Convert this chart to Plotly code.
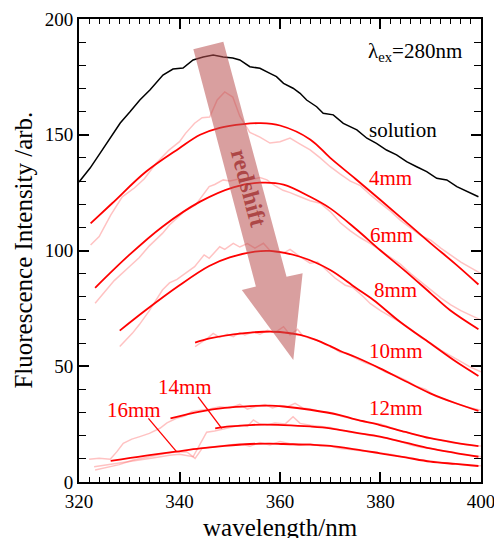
import plotly.graph_objects as go

# ---------------- data ----------------
sol_x = [320.0, 322.2, 324.2, 326.2, 328.2, 330.1, 332.1, 334.1, 336.7, 338.7, 340.7, 342.7, 344.7,
         346.7, 348.7, 350.6, 352.0, 354.0, 356.0, 358.0, 359.3, 360.7, 362.6, 364.0, 365.3, 367.3,
         368.6, 370.6, 372.6, 375.3, 377.3, 379.2, 381.2, 383.2, 385.2, 387.2, 389.2, 391.2, 393.2,
         395.2, 397.2, 399.5]
sol_y = [129.6, 135.6, 142.1, 148.6, 155.1, 159.8, 165.0, 169.3, 175.8, 178.4, 178.8, 182.3, 183.6,
         184.4, 183.6, 183.2, 182.3, 179.4, 178.7, 176.5, 175.1, 172.2, 170.1, 167.9, 165.0, 162.1,
         159.3, 158.6, 154.9, 152.1, 148.5, 146.3, 143.4, 141.3, 138.4, 136.2, 134.1, 131.2, 130.5,
         127.6, 125.4, 123.2]

fit_x = {
    "4mm": [322.3, 326.6, 333.3, 339.9, 344.1, 348.0, 352.7, 356.0, 360.0, 366.0, 370.0, 375.0, 380.0, 385.0, 390.0, 395.0, 399.5],
    "6mm": [323.2, 330.0, 336.6, 344.1, 350.7, 356.0, 360.7, 366.0, 370.0, 375.0, 379.9, 385.0, 390.0, 393.8, 399.5],
    "8mm": [328.1, 333.3, 340.0, 345.9, 350.0, 355.0, 358.0, 364.0, 370.0, 375.0, 378.6, 384.0, 389.9, 395.0, 399.5],
    "10mm": [343.1, 346.0, 350.7, 356.7, 360.0, 364.0, 367.0, 370.0, 372.0, 375.0, 379.9, 385.0, 389.9, 395.0, 399.5],
    "12mm": [338.2, 344.1, 349.0, 354.0, 358.0, 360.7, 366.0, 371.9, 375.0, 379.9, 385.0, 389.9, 395.0, 399.5],
    "14mm": [347.1, 350.0, 354.0, 357.0, 360.7, 366.0, 370.0, 375.0, 379.9, 385.0, 389.9, 395.0, 399.5],
    "16mm": [326.3, 333.0, 339.2, 344.1, 349.0, 354.0, 358.0, 360.7, 366.0, 370.0, 375.0, 379.9, 385.0, 389.9, 395.0, 399.5],
}
fit_y = {
    "4mm": [111.7, 120.4, 134.0, 144.1, 150.0, 153.0, 154.6, 155.0, 154.0, 148.0, 140.0, 131.0, 121.8, 112.5, 103.1, 94.0, 85.3],
    "6mm": [83.9, 98.1, 110.3, 121.1, 127.3, 129.3, 128.5, 123.2, 118.2, 109.5, 100.2, 91.0, 81.5, 74.3, 66.0],
    "8mm": [65.4, 74.3, 85.0, 93.3, 97.0, 99.5, 99.8, 97.3, 91.6, 84.0, 78.6, 69.0, 59.9, 52.0, 45.8],
    "10mm": [60.2, 62.0, 63.8, 64.9, 64.8, 63.5, 61.5, 58.7, 56.6, 54.0, 49.1, 43.5, 38.3, 34.0, 30.7],
    "12mm": [27.5, 30.4, 32.0, 32.8, 33.0, 32.6, 31.2, 28.9, 27.0, 24.6, 21.6, 18.9, 16.9, 15.5],
    "14mm": [23.2, 24.0, 24.6, 24.8, 24.6, 24.0, 23.2, 21.3, 19.6, 17.0, 14.5, 12.5, 10.9],
    "16mm": [9.1, 11.3, 13.1, 14.5, 15.6, 16.4, 16.6, 16.4, 16.1, 15.6, 14.1, 12.4, 10.6, 8.8, 7.8, 6.9],
}

raw_x = {
    "4mm": [322.3, 324, 326.3, 328.6, 331, 333, 335.3, 337.9, 340, 341.2, 343, 344.5, 346, 347.5, 349, 350.6, 352,
            354, 356, 358, 360, 362, 364, 366, 368, 370, 372, 374, 376, 378, 380, 382, 384, 386.5, 388, 390,
            392, 394, 396, 398, 400],
    "6mm": [323.2, 325, 327, 330, 332, 334, 336.6, 338, 339.9, 341, 343.2, 345.9, 347, 348.7, 350, 352, 354, 356,
            357.4, 359, 360.6, 362, 364, 366, 368, 370, 372, 374, 376, 378, 380, 382, 384, 386, 388, 390, 392,
            394, 396, 398, 400],
    "8mm": [328.1, 330.6, 332, 334, 336.6, 338, 339.5, 341.2, 343, 344.9, 345.9, 348, 349, 350.7, 352, 353.5, 355,
            356.7, 358, 360.6, 362, 364, 366, 367.5, 369.3, 371, 373, 374.5, 376.6, 378, 380, 382, 384, 386, 388,
            390, 392, 394, 396, 398, 400],
    "10mm": [343.1, 344.1, 345.5, 346.7, 348, 349.5, 350.7, 352, 353, 354.7, 356, 357.5, 359, 360.7, 362, 363.5,
             364.5, 366, 367.3, 369, 370.5, 372, 373.5, 375, 377, 379, 381, 383, 385, 387, 389, 391, 393, 395,
             397, 400],
    "12mm": [322, 324, 326.2, 327.5, 328.8, 330.5, 332.1, 334, 336.1, 337.5, 339.4, 341, 342.5, 344, 346, 348, 350,
             352, 353.5, 355, 357, 358.5, 360, 361.5, 363, 364.5, 366, 368, 370, 372, 374, 376, 378, 380, 382, 384,
             386, 388, 390, 392, 394, 396, 398, 400],
    "14mm": [323, 326, 329, 332, 335, 338, 340, 342.7, 344.1, 345.4, 347, 348, 350.6, 352, 353.5, 354.7, 356, 357.4,
             359, 361, 362.6, 364, 366, 368, 370, 372, 374, 376, 378, 380, 382, 384, 386, 388, 390, 392, 394, 396,
             398, 400],
    "16mm": [323.2, 326, 328, 330.8, 333, 335, 337.4, 339, 341.4, 343.1, 344.5, 346, 348, 350, 352, 354, 356, 358,
             360, 362, 364, 366, 368, 370, 372, 374, 376, 378, 380, 382, 384, 386, 388, 390, 392, 394, 396, 398, 400],
}
raw_y = {
    "4mm": [102.4, 106, 115.3, 123.2, 127, 131, 137.6, 143.4, 147, 150.6, 155, 157.4, 157.7, 165, 168.5, 166.3, 158,
            151, 149, 146.4, 147, 148.6, 146, 143.5, 140, 136.2, 133, 130, 128, 124, 120.5, 117, 113, 108.9, 106.5,
            104.5, 101, 98, 95, 92.5, 90],
    "6mm": [77.2, 82, 87, 93, 97, 102, 107.4, 111, 114.6, 117, 119.7, 127.6, 128.5, 130.5, 130, 131, 130.5, 131.5,
            130.5, 128, 126, 125, 123.2, 121.5, 120.4, 116.8, 112, 108.5, 105.5, 103, 100, 97, 94, 90, 86.5, 83,
            79.5, 76.5, 74, 72, 70],
    "8mm": [58.5, 64.2, 68, 74, 82.9, 86, 87.5, 90.1, 93, 98.1, 96.6, 101.6, 100.5, 103.1, 101.5, 103, 101, 103.1,
            100, 98.8, 100.5, 97.3, 94.5, 95, 91.6, 88, 85, 84, 80, 77, 74, 71.5, 69, 66, 62.5, 60, 57, 54.5, 52,
            49.5, 47.6],
    "10mm": [58.5, 59.9, 62, 64.2, 62.5, 63.8, 62.8, 64.5, 63.5, 64.9, 63.8, 65.5, 64.5, 67.1, 63.5, 66, 63.2, 62,
             61.3, 59.5, 58, 56, 55.5, 53.5, 51.5, 50, 47.5, 46, 44, 41.5, 40, 37, 35.5, 34, 32.5, 31],
    "12mm": [9.8, 10.2, 9.8, 13, 16.7, 18.5, 19.6, 21, 23.2, 25.5, 27.5, 28.5, 30.5, 31, 31.5, 32.5, 32, 33.5, 31.5,
             32.5, 33.5, 32, 33, 32.5, 34, 32, 31.5, 30.5, 30, 28.5, 27.5, 26.5, 25.5, 25, 23.5, 22, 21, 20, 19,
             18.3, 17, 16.5, 15.8, 15.5],
    "14mm": [6.6, 7.5, 8.5, 9.5, 10.5, 11.5, 12, 10.9, 16.7, 21.5, 22, 22.5, 23.9, 24.5, 24, 26.8, 25, 24.6, 25.5,
             25, 28.2, 25.3, 24.5, 24, 23.5, 22.5, 21.5, 21, 20, 19.5, 18.5, 17.5, 16, 15, 14.5, 13.5, 12.8, 12,
             11.5, 11],
    "16mm": [5.2, 6.5, 7.5, 9.5, 10.5, 11.5, 12.4, 12.8, 13.1, 10.2, 14.5, 15, 15.5, 16, 16.5, 15.5, 17, 16, 17.5,
             16.5, 16, 16.5, 15.5, 15.5, 14.5, 14, 13.5, 13, 12.5, 12, 11, 10.5, 9.5, 9, 8.5, 8, 7.5, 7, 7],
}

series = ["4mm", "6mm", "8mm", "10mm", "12mm", "14mm", "16mm"]
label_pos = {"4mm": (381.9, 131.2), "6mm": (382.2, 106.7), "8mm": (382.9, 82.9), "10mm": (383.0, 56.7),
             "12mm": (383.0, 31.8), "14mm": (341.0, 40.9), "16mm": (331.0, 31.1)}

FONT = "Liberation Serif, Times New Roman, serif"
RED = "#ff0000"

fig = go.Figure()
for s in series:
    fig.add_trace(go.Scatter(x=raw_x[s], y=raw_y[s], mode="lines",
                             line=dict(color="rgba(255,110,110,0.42)", width=1.5), showlegend=False))
for s in series:
    fig.add_trace(go.Scatter(x=fit_x[s], y=fit_y[s], mode="lines",
                             line=dict(color=RED, width=1.8, shape="spline", smoothing=1.0), showlegend=False))
fig.add_trace(go.Scatter(x=sol_x, y=sol_y, mode="lines", line=dict(color="black", width=1.5), showlegend=False))

# arrow (decoration)
arrow = [(342.75, 186.9), (348.72, 190.2), (361.3, 88.7), (364.5, 90.2), (362.65, 52.7), (352.4, 82.9), (355.2, 84.4)]
path = "M " + " L ".join(f"{x},{y}" for x, y in arrow) + " Z"
fig.add_shape(type="path", path=path, xref="x", yref="y", fillcolor="rgba(185,80,80,0.55)",
              line=dict(width=0), layer="above")
fig.add_annotation(x=353.7, y=126.8, text="<b>redshift</b>", showarrow=False, textangle=75,
                   font=dict(family=FONT, size=24, color="rgba(165,55,55,0.85)"))

# leader lines for 14mm / 16mm
fig.add_shape(type="line", x0=343.7, y0=36.8, x1=348.4, y1=23.2, xref="x", yref="y", line=dict(color=RED, width=1.3))
fig.add_shape(type="line", x0=333.8, y0=27.5, x1=339.4, y1=13.1, xref="x", yref="y", line=dict(color=RED, width=1.3))

for s in series:
    x, y = label_pos[s]
    fig.add_annotation(x=x, y=y, text=s, showarrow=False, font=dict(family=FONT, size=21, color=RED))
fig.add_annotation(x=384.4, y=152.0, text="solution", showarrow=False, font=dict(family=FONT, size=21, color="black"))
fig.add_annotation(x=386.8, y=185.9, text="λ<sub>ex</sub>=280nm", showarrow=False,
                   font=dict(family=FONT, size=21, color="black"))

# axis titles
fig.add_annotation(x=0.5, y=-0.098, xref="paper", yref="paper", yanchor="middle", text="wavelength/nm",
                   showarrow=False, font=dict(family=FONT, size=25, color="black"))
fig.add_annotation(x=-0.139, y=0.5, xref="paper", yref="paper", xanchor="center", text="Fluorescence Intensity /arb.",
                   textangle=-90, showarrow=False, font=dict(family=FONT, size=25, color="black"))

axis_common = dict(showline=True, linewidth=2, linecolor="black", mirror="allticks", ticks="inside",
                   tickcolor="black", tickwidth=1.5, ticklen=10, showgrid=False, zeroline=False, automargin=False,
                   ticklabeloverflow="allow", tickfont=dict(family=FONT, size=19, color="black"))
fig.update_xaxes(range=[319.99, 400.01], tickvals=[320, 340, 360, 380, 400], ticklabelstandoff=1,
                 minor=dict(dtick=2, tick0=320, ticks="inside", ticklen=5, tickcolor="black", tickwidth=1.2),
                 **axis_common)
fig.update_yaxes(range=[-0.01, 200.01], tickvals=[0, 50, 100, 150, 200],
                 minor=dict(dtick=10, tick0=0, ticks="inside", ticklen=7, tickcolor="black", tickwidth=1.2),
                 **axis_common)
fig.update_layout(width=494, height=538, margin=dict(l=79, r=13, t=19, b=56),
                  plot_bgcolor="white", paper_bgcolor="white", showlegend=False)
fig.write_html("out.html", config={"displayModeBar": False},
               post_script="document.body.style.margin='0';document.body.style.overflow='hidden';")
